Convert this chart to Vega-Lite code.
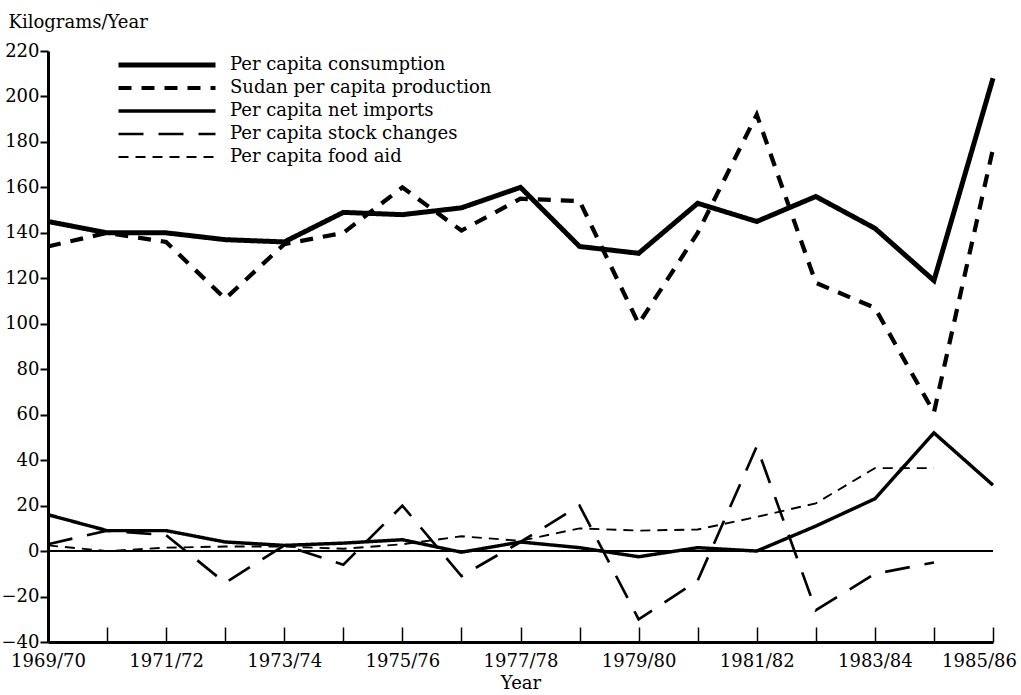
{
  "$schema": "https://vega.github.io/schema/vega-lite/v6.json",
  "width": 945,
  "height": 591,
  "autosize": {"type": "none"},
  "padding": {"left": 48, "top": 51, "right": 28, "bottom": 53},
  "background": "white",
  "config": {
    "view": {"stroke": null},
    "font": "DejaVu Serif",
    "axis": {"labelFont": "DejaVu Serif", "titleFont": "DejaVu Serif", "labelColor": "black", "titleColor": "black", "titleFontWeight": "normal"},
    "legend": {"labelFont": "DejaVu Serif"}
  },
  "data": {
    "values": [
      {"year": 1969, "series": "Per capita consumption", "value": 145},
      {"year": 1970, "series": "Per capita consumption", "value": 140},
      {"year": 1971, "series": "Per capita consumption", "value": 140},
      {"year": 1972, "series": "Per capita consumption", "value": 137},
      {"year": 1973, "series": "Per capita consumption", "value": 136},
      {"year": 1974, "series": "Per capita consumption", "value": 149},
      {"year": 1975, "series": "Per capita consumption", "value": 148},
      {"year": 1976, "series": "Per capita consumption", "value": 151},
      {"year": 1977, "series": "Per capita consumption", "value": 160},
      {"year": 1978, "series": "Per capita consumption", "value": 134},
      {"year": 1979, "series": "Per capita consumption", "value": 131},
      {"year": 1980, "series": "Per capita consumption", "value": 153},
      {"year": 1981, "series": "Per capita consumption", "value": 145},
      {"year": 1982, "series": "Per capita consumption", "value": 156},
      {"year": 1983, "series": "Per capita consumption", "value": 142},
      {"year": 1984, "series": "Per capita consumption", "value": 119},
      {"year": 1985, "series": "Per capita consumption", "value": 208},
      {"year": 1969, "series": "Sudan per capita production", "value": 134},
      {"year": 1970, "series": "Sudan per capita production", "value": 140},
      {"year": 1971, "series": "Sudan per capita production", "value": 136},
      {"year": 1972, "series": "Sudan per capita production", "value": 111},
      {"year": 1973, "series": "Sudan per capita production", "value": 135},
      {"year": 1974, "series": "Sudan per capita production", "value": 140},
      {"year": 1975, "series": "Sudan per capita production", "value": 160},
      {"year": 1976, "series": "Sudan per capita production", "value": 141},
      {"year": 1977, "series": "Sudan per capita production", "value": 155},
      {"year": 1978, "series": "Sudan per capita production", "value": 154},
      {"year": 1979, "series": "Sudan per capita production", "value": 100},
      {"year": 1980, "series": "Sudan per capita production", "value": 140},
      {"year": 1981, "series": "Sudan per capita production", "value": 192},
      {"year": 1982, "series": "Sudan per capita production", "value": 118},
      {"year": 1983, "series": "Sudan per capita production", "value": 107},
      {"year": 1984, "series": "Sudan per capita production", "value": 61},
      {"year": 1985, "series": "Sudan per capita production", "value": 177},
      {"year": 1969, "series": "Per capita net imports", "value": 16},
      {"year": 1970, "series": "Per capita net imports", "value": 9},
      {"year": 1971, "series": "Per capita net imports", "value": 9},
      {"year": 1972, "series": "Per capita net imports", "value": 4},
      {"year": 1973, "series": "Per capita net imports", "value": 2.5},
      {"year": 1974, "series": "Per capita net imports", "value": 3.5},
      {"year": 1975, "series": "Per capita net imports", "value": 5},
      {"year": 1976, "series": "Per capita net imports", "value": -0.5},
      {"year": 1977, "series": "Per capita net imports", "value": 4},
      {"year": 1978, "series": "Per capita net imports", "value": 1.5},
      {"year": 1979, "series": "Per capita net imports", "value": -2.5},
      {"year": 1980, "series": "Per capita net imports", "value": 1.5},
      {"year": 1981, "series": "Per capita net imports", "value": 0},
      {"year": 1982, "series": "Per capita net imports", "value": 11},
      {"year": 1983, "series": "Per capita net imports", "value": 23},
      {"year": 1984, "series": "Per capita net imports", "value": 52},
      {"year": 1985, "series": "Per capita net imports", "value": 29},
      {"year": 1969, "series": "Per capita stock changes", "value": 3},
      {"year": 1970, "series": "Per capita stock changes", "value": 9},
      {"year": 1971, "series": "Per capita stock changes", "value": 7},
      {"year": 1972, "series": "Per capita stock changes", "value": -14},
      {"year": 1973, "series": "Per capita stock changes", "value": 2.5},
      {"year": 1974, "series": "Per capita stock changes", "value": -6},
      {"year": 1975, "series": "Per capita stock changes", "value": 20},
      {"year": 1976, "series": "Per capita stock changes", "value": -11},
      {"year": 1977, "series": "Per capita stock changes", "value": 4},
      {"year": 1978, "series": "Per capita stock changes", "value": 20},
      {"year": 1979, "series": "Per capita stock changes", "value": -30},
      {"year": 1980, "series": "Per capita stock changes", "value": -13},
      {"year": 1981, "series": "Per capita stock changes", "value": 46},
      {"year": 1982, "series": "Per capita stock changes", "value": -26},
      {"year": 1983, "series": "Per capita stock changes", "value": -10},
      {"year": 1984, "series": "Per capita stock changes", "value": -5},
      {"year": 1969, "series": "Per capita food aid", "value": 2.5},
      {"year": 1970, "series": "Per capita food aid", "value": 0},
      {"year": 1971, "series": "Per capita food aid", "value": 1.5},
      {"year": 1972, "series": "Per capita food aid", "value": 2},
      {"year": 1973, "series": "Per capita food aid", "value": 2},
      {"year": 1974, "series": "Per capita food aid", "value": 1},
      {"year": 1975, "series": "Per capita food aid", "value": 3},
      {"year": 1976, "series": "Per capita food aid", "value": 6.5},
      {"year": 1977, "series": "Per capita food aid", "value": 4.5},
      {"year": 1978, "series": "Per capita food aid", "value": 10},
      {"year": 1979, "series": "Per capita food aid", "value": 9},
      {"year": 1980, "series": "Per capita food aid", "value": 9.5},
      {"year": 1981, "series": "Per capita food aid", "value": 15},
      {"year": 1982, "series": "Per capita food aid", "value": 21},
      {"year": 1983, "series": "Per capita food aid", "value": 36.5},
      {"year": 1984, "series": "Per capita food aid", "value": 36.5}
    ]
  },
  "layer": [
    {
      "mark": {"type": "line", "color": "black", "strokeJoin": "miter", "strokeCap": "butt"},
      "encoding": {
        "x": {
          "field": "year", "type": "quantitative",
          "scale": {"domain": [1969, 1985], "nice": false, "zero": false},
          "axis": {
            "title": "Year", "titleFontSize": 18, "titlePadding": 4,
            "values": [1969,1970,1971,1972,1973,1974,1975,1976,1977,1978,1979,1980,1981,1982,1983,1984,1985],
            "labelExpr": "datum.value % 2 == 1 ? datum.value + '/' + substring(toString(datum.value + 1), 2, 4) : ''",
            "labelFontSize": 18, "labelPadding": 25, "labelFlush": false,
            "labelOffset": {"condition": {"test": "datum.value == 1985", "value": -14}, "value": 0},
            "grid": false, "domainColor": "black", "domainWidth": 3,
            "tickColor": "black", "tickWidth": 1.5, "tickSize": -15
          }
        },
        "y": {
          "field": "value", "type": "quantitative",
          "scale": {"domain": [-40, 220], "nice": false, "zero": false},
          "axis": {
            "title": "Kilograms/Year", "titleAngle": 0, "titleAlign": "left", "titleBaseline": "alphabetic",
            "titleX": -40, "titleY": -24, "titleFontSize": 18,
            "values": [-40,-20,0,20,40,60,80,100,120,140,160,180,200,220],
            "labelFontSize": 18, "labelPadding": 1,
            "grid": false, "domainColor": "black", "domainWidth": 3,
            "ticks": true, "tickColor": "black", "tickWidth": 2, "tickSize": 8, "tickOpacity": 1,
            "zindex": 1
          }
        },
        "detail": {"field": "series"},
        "strokeDash": {
          "field": "series", "type": "nominal",
          "scale": {
            "domain": ["Per capita consumption", "Sudan per capita production", "Per capita net imports", "Per capita stock changes", "Per capita food aid"],
            "range": [[1, 0], [13, 10], [1, 0], [25, 15], [10, 7]]
          },
          "legend": {
            "title": null, "orient": "none", "legendX": 68, "legendY": 4,
            "symbolType": "stroke", "symbolSize": 9409, "symbolStrokeColor": "black",
            "labelFontSize": 18, "labelColor": "black", "labelOffset": 12,
            "clipHeight": 20, "rowPadding": 3, "labelLimit": 400
          }
        },
        "strokeWidth": {
          "field": "series", "type": "nominal",
          "scale": {
            "domain": ["Per capita consumption", "Sudan per capita production", "Per capita net imports", "Per capita stock changes", "Per capita food aid"],
            "range": [5, 1.9, 2, 3, 1.3]
          },
          "legend": {
            "title": null, "orient": "none", "legendX": 68, "legendY": 4,
            "symbolType": "stroke", "symbolSize": 9409, "symbolStrokeColor": "black",
            "labelFontSize": 18, "labelColor": "black", "labelOffset": 12,
            "clipHeight": 20, "rowPadding": 3, "labelLimit": 400
          }
        }
      }
    },
    {
      "mark": {"type": "rule", "color": "black", "strokeWidth": 1.5},
      "encoding": {"y": {"datum": 0, "type": "quantitative"}}
    }
  ]
}
